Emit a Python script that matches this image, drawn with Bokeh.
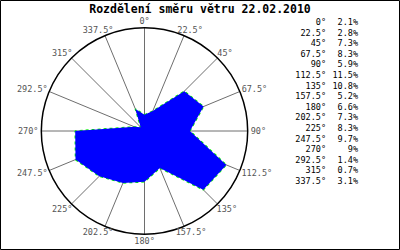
import math
from bokeh.plotting import figure
from bokeh.models import Range1d, ColumnDataSource
from bokeh.core.properties import value
from bokeh.embed import file_html
from bokeh.resources import INLINE

# ---- data ----
directions = [0, 22.5, 45, 67.5, 90, 112.5, 135, 157.5, 180, 202.5, 225, 247.5, 270, 292.5, 315, 337.5]
percent = [2.1, 2.8, 7.3, 8.3, 5.9, 11.5, 10.8, 5.2, 6.6, 7.3, 8.3, 9.7, 9.0, 1.4, 0.7, 3.1]
dir_labels = ["0°", "22.5°", "45°", "67.5°", "90°", "112.5°", "135°", "157.5°", "180°",
              "202.5°", "225°", "247.5°", "270°", "292.5°", "315°", "337.5°"]
title_text = "Rozdělení směru větru 22.02.2010"
R_MAX = 13.4  # outer circle in percent units

# ---- layout helpers (pixels -> data) ----
W, H = 400, 250
K = 7.7          # pixels per percent
CX, CY = 144.0, 130.5


def dxp(px):
    return (px - CX) / K


def dyp(py):
    return (CY - py) / K


FONT = value("DejaVu Sans Mono")

p = figure(width=W, height=H, output_backend="svg", toolbar_location=None,
           x_axis_location=None, y_axis_location=None, min_border=0,
           x_range=Range1d(dxp(0), dxp(W)), y_range=Range1d(dyp(H), dyp(0)))
p.grid.visible = False
p.outline_line_color = "black"
p.outline_line_width = 1
p.background_fill_color = "white"
p.border_fill_color = "white"

rad = [math.radians(a) for a in directions]

# spokes
p.segment(x0=[0] * len(rad), y0=[0] * len(rad),
          x1=[R_MAX * math.sin(t) for t in rad], y1=[R_MAX * math.cos(t) for t in rad],
          line_color="#6e6e6e", line_width=1)

# polygon
xs = [v * math.sin(t) for v, t in zip(percent, rad)]
ys = [v * math.cos(t) for v, t in zip(percent, rad)]
p.line(xs + xs[:1], ys + ys[:1], line_color="#00ee00", line_width=1.5, line_dash="3 3")
p.patch(xs, ys, fill_color="#0000ff", line_color=None)

# outer circle
p.circle(x=[0], y=[0], radius=R_MAX, fill_color=None, line_color="black", line_width=1.5)

# direction labels
CHW, CHH = 5.1, 7.0
OFF = 3.0 / K
lx, ly, xo, yo = [], [], [], []
for lab, t in zip(dir_labels, rad):
    lx.append((R_MAX + OFF) * math.sin(t))
    ly.append((R_MAX + OFF) * math.cos(t))
    ax = (1 - math.sin(t)) / 2
    ay = (1 + math.cos(t)) / 2
    w = len(lab) * CHW
    xo.append(-ax * w)
    yo.append(-(ay - 0.5) * CHH)
src = ColumnDataSource(dict(x=lx, y=ly, text=dir_labels, xo=xo, yo=yo))
p.text(x="x", y="y", text="text", x_offset="xo", y_offset="yo", source=src,
       text_font=FONT, text_font_size="8.5px", text_color="#555555",
       text_align="left", text_baseline="middle")

# legend
rows_y = [dyp(21.5 + i * 10.6) for i in range(len(directions))]
val_text = [f"{v:g}%" for v in percent]
p.text(x=[dxp(325.5)] * len(rows_y), y=rows_y, text=dir_labels, text_font=FONT,
       text_font_size="8.5px", text_color="black", text_align="right", text_baseline="middle")
p.text(x=[dxp(357.5)] * len(rows_y), y=rows_y, text=val_text, text_font=FONT,
       text_font_size="8.5px", text_color="black", text_align="right", text_baseline="middle")

# title
p.text(x=[dxp(199.5)], y=[dyp(8.5)], text=[title_text], text_font=FONT,
       text_font_size="11.5px", text_font_style="bold", text_color="black",
       text_align="center", text_baseline="middle")

open("out.html", "w").write(file_html(p, INLINE))
